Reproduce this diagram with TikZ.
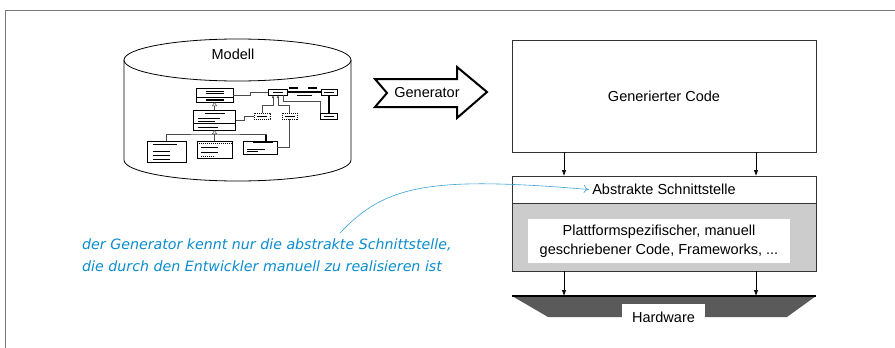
\documentclass[tikz,border=0pt]{standalone}
\usepackage{fontspec}
\setmainfont{Liberation Sans}
\newfontfamily\notefont{DejaVu Sans}
\usetikzlibrary{arrows.meta, positioning}
\definecolor{noteblue}{RGB}{10,140,205}
\definecolor{hwgray}{RGB}{90,90,90}
\definecolor{layergray}{RGB}{204,204,204}
\definecolor{framegray}{RGB}{120,120,120}

\begin{document}
\begin{tikzpicture}[x=1pt, y=-1pt, node distance=24pt,
  layer/.style={draw=black!80, line width=0.8pt, outer sep=0pt, inner sep=0pt, minimum width=304pt},
  txt/.style={font=\fontsize{14.5}{19}\selectfont},
  flow/.style={-{Latex[length=6pt,width=4.5pt]}, line width=0.7pt},
  umlbox/.style={draw, fill=white, line width=0.5pt, inner sep=0pt, outer sep=0pt},
  umlline/.style={line width=0.5pt, draw=black!70},
  gen/.style={umlline, -{Triangle[open,length=4pt,width=5pt]}},
  nav/.style={umlline, -{Latex[length=3pt,width=2.5pt]}},
  strong/.style={line width=1.4pt},
  dots/.style={dash pattern=on 1.2pt off 0.8pt}]

\useasboundingbox (0,0) rectangle (895,348);
\draw[framegray, line width=1.5pt] (895,10.5) -- (5.5,10.5) -- (5.5,348);

% Modell
\draw[line width=0.8pt, fill=white] (124,60) -- (124,160) arc[start angle=180, end angle=0, x radius=113.5, y radius=21] -- (351,60);
\draw[line width=0.8pt] (237.5,60) ellipse[x radius=113.5, y radius=21];
\node[txt] (modell) at (233,54) {Modell};

\node[umlbox, minimum width=37pt, minimum height=14pt] (clsA) at (214.5,95) {};
\node[umlbox, minimum width=42pt, minimum height=20pt] (clsB) at (214.5,120) {};
\node[umlbox, minimum width=39pt, minimum height=21pt] (clsC) at (166.5,151.5) {};
\node[umlbox, minimum width=35pt, minimum height=17pt] (clsD) at (214.5,149.5) {};
\node[umlbox, minimum width=34pt, minimum height=13pt] (clsE) at (260,147.5) {};
\node[umlbox, minimum width=19pt, minimum height=6pt] (clsF) at (277.5,92) {};
\node[umlbox, minimum width=16pt, minimum height=6pt] (clsG) at (329,92) {};
\node[umlbox, dots, minimum width=16pt, minimum height=6pt] (clsH) at (262,116) {};
\node[umlbox, dots, minimum width=15pt, minimum height=6pt] (clsI) at (289.5,116) {};
\node[umlbox, minimum width=17pt, minimum height=6pt] (clsJ) at (329,116) {};

% class contents
\draw[line width=0.8pt] ([shift={(-9,-4)}]clsA.center) -- ++(18,0) ([shift={(-9,-1.5)}]clsA.center) -- ++(18,0);
\draw[line width=0.4pt] ([shift={(-18.5,2.5)}]clsA.center) -- ++(37,0);
\draw[strong] ([shift={(-9,5)}]clsA.center) -- ++(18,0);
\draw[strong] ([shift={(-10,-6.5)}]clsB.center) -- ++(20,0);
\draw[line width=0.8pt] ([shift={(-17,-2)}]clsB.center) -- ++(22,0) ([shift={(-17,1)}]clsB.center) -- ++(17,0) ([shift={(-17,7)}]clsB.center) -- ++(20,0);
\draw[line width=1pt] ([shift={(-21,3.5)}]clsB.center) -- ++(42,0);
\draw[line width=0.8pt] ([shift={(-14,-7.5)}]clsC.center) -- ++(24,0);
\foreach \y in {-0.5,3.5,7.5}
  \draw[line width=0.8pt] ([shift={(-14,\y)}]clsC.center) -- ++(17,0);
\draw[line width=0.4pt, dots] ([shift={(-17.5,-6)}]clsD.center) -- ++(35,0);
\foreach \y in {-2,2.5}
  \draw[line width=0.8pt] ([shift={(-14,\y)}]clsD.center) -- ++(17,0);
\draw[line width=0.4pt, dots] ([shift={(-14,6.5)}]clsD.center) -- ++(14,0);
\draw[strong] ([shift={(-7,-5)}]clsE.center) -- ++(20,0);
\draw[line width=0.8pt] ([shift={(-13,1.5)}]clsE.center) -- ++(18,0) ([shift={(-13,3.5)}]clsE.center) -- ++(11,0);
\foreach \c in {clsF,clsG,clsH,clsI,clsJ}
  \draw[line width=0.6pt] ([xshift=-5pt]\c.center) -- ([xshift=5pt]\c.center);

% class relations
\draw[gen] (clsB.north) -- (clsA.south);
\draw[gen] (clsD.north) -- (clsB.south);
\draw[umlline] (clsC.north) |- ([yshift=-4pt]clsB.south) -| ([xshift=6pt]clsE.north);
\draw[strong] ([xshift=6pt]clsE.north) -- ++(0,-6);
\draw[umlline] (clsA.east) -- ++(17,0) |- (clsF.west);
\draw[umlline] (clsB.east) -- ++(9,0) |- (clsH.west);
\draw[nav] (clsH.north) |- ([xshift=-4.5pt,yshift=-10pt]clsF.south) -- ([xshift=-4.5pt]clsF.south);
\draw[nav] (clsI.north) |- ([xshift=0.5pt,yshift=-10pt]clsF.south) -- ([xshift=0.5pt]clsF.south);
\draw[strong] (clsF.east) -- (clsG.west);
\draw[strong] ([shift={(2,-4)}]clsF.east) -- ++(9,0) ([shift={(21,-4)}]clsF.east) -- ++(9,0);
\draw[line width=0.6pt] ([shift={(10,3)}]clsF.east) -- ++(15,0);
\draw[strong] (clsG.south) -- (clsJ.north);
\draw[umlline] ([xshift=-4pt]clsF.south east) -- ++(0,6) -| ([xshift=-8.5pt]clsJ.north);
\draw[umlline] (clsI.south) |- (clsE.east);

% Generator
\draw[line width=2pt, line join=miter, fill=white] (375,79) -- (457,79) -- (457,67) -- (487,92) -- (457,118) -- (457,107) -- (375,107) -- (387,93) -- cycle;
\node[txt] (generator) at (427,93) {Generator};

% Schichten
\node[layer, txt, minimum height=112pt] (gencode) at (664,96) {Generierter Code};
\node[layer, minimum height=27pt, below=24pt of gencode] (absbox) {};
\node[txt] (abslabel) at (absbox) {Abstrakte Schnittstelle};
\node[layer, fill=layergray, minimum height=68pt, below=0pt of absbox] (platform) {};
\node[txt, fill=white, align=center, inner sep=0pt, minimum width=262pt, minimum height=44pt] (platlabel) at ([xshift=-5pt,yshift=-4pt]platform.center) {Plattformspezifischer, manuell\\geschriebener Code, Frameworks, ...};
\coordinate[below=25pt of platform] (hwtop);
\fill[hwgray] (512,296) -- (816,296) -- (787,317) -- (548,317) -- cycle;
\draw[line width=1.2pt] ([xshift=-152pt]hwtop) -- ([xshift=152pt]hwtop);
\node[txt, fill=white, inner sep=0pt, minimum width=83pt, minimum height=26pt] (hardware) at (663.5,317) {Hardware};

\draw[flow] ([xshift=-100pt]gencode.south) -- ([xshift=-100pt]absbox.north);
\draw[flow] ([xshift=92pt]gencode.south) -- ([xshift=92pt]absbox.north);
\draw[flow] ([xshift=-100pt]platform.south) -- ([xshift=-100pt]hwtop);
\draw[flow] ([xshift=92pt]platform.south) -- ([xshift=92pt]hwtop);

% Anmerkung
\node[font=\notefont\itshape\fontsize{14.2}{21.5}\selectfont, text=noteblue, align=left, anchor=north west, inner sep=0pt] (note) at (82,239) {der Generator kennt nur die abstrakte Schnittstelle,\\die durch den Entwickler manuell zu realisieren ist};
\coordinate (notestart) at (340,233);
\draw[noteblue!80, line width=0.6pt, -{To[length=5pt,width=8pt]}] (notestart) .. controls (385,185) and (430,176) .. (abslabel.west);

\end{tikzpicture}
\end{document}
